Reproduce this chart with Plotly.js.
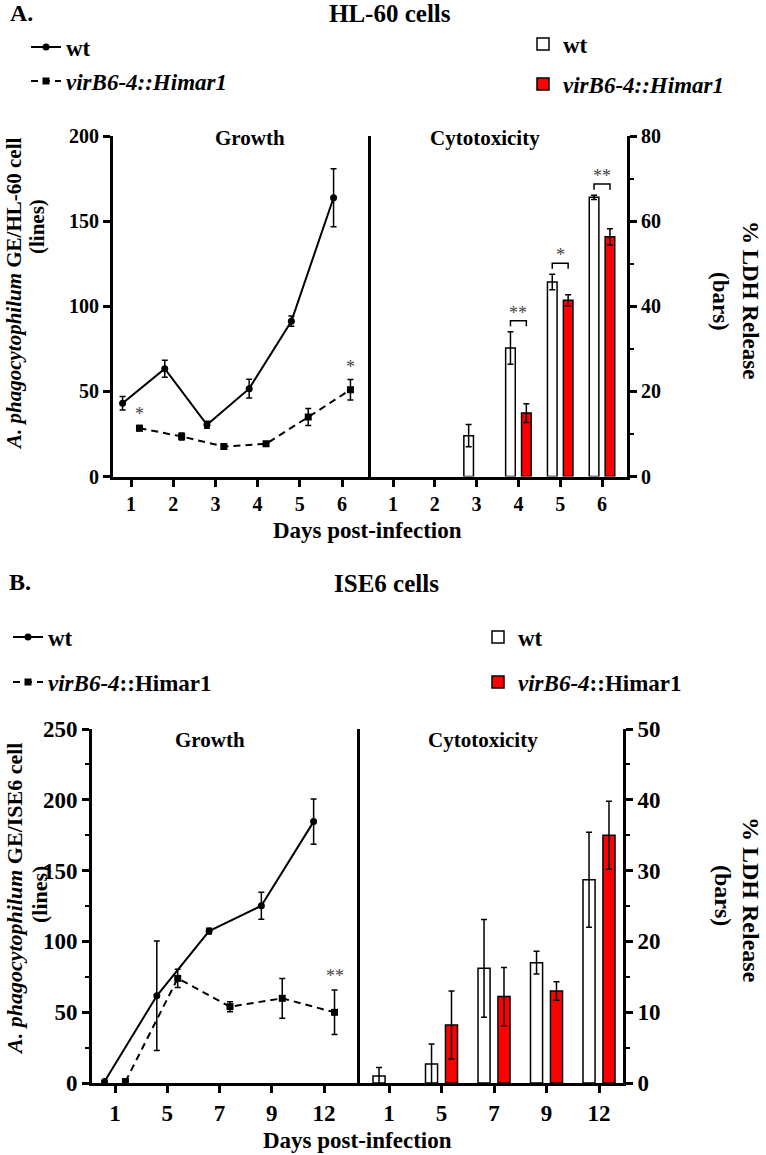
<!DOCTYPE html>
<html>
<head>
<meta charset="utf-8">
<script src="https://cdn.plot.ly/plotly-3.0.1.min.js"></script>
<style>
  body { margin: 0; background: #fff; }
  #plotArea { width: 766px; height: 1155px; }
</style>
</head>
<body>
<div id="plotArea"></div>
<script>
// HL-60 cells (panel A)
var topDays = [1, 2, 3, 4, 5, 6];
var topWtGE = [43, 63.3, 30.4, 51.6, 91.2, 163.7];
var topWtGEErr = [4, 5, 2, 5.5, 3, 17];
var topMutGE = [28.4, 23.5, 17.6, 19.2, 34.9, 51];
var topMutGEErr = [1.5, 2, 1, 1, 5, 6];
var topMutGESig = ["*", "", "", "", "", "*"];
var topWtLDH = [0, 0, 9.6, 30.2, 45.7, 65.6];
var topWtLDHErr = [0, 0, 2.6, 3.8, 1.8, 0.5];
var topMutLDH = [0, 0, 0, 14.9, 41.4, 56.3];
var topMutLDHErr = [0, 0, 0, 2.2, 1.3, 1.9];
var topLDHSig = ["", "", "", "**", "*", "**"];

// ISE6 cells (panel B)
var botDays = ["1", "5", "7", "9", "12"];
var botWtGE = [1, 61.6, 107.3, 125.2, 184.6];
var botWtGEErr = [0, 38.6, 2, 9.5, 16];
var botMutGE = [1, 73.9, 53.9, 59.8, 49.9];
var botMutGEErr = [0, 6.5, 3.5, 14, 15.7];
var botMutGESig = ["", "", "", "", "**"];
var botWtLDH = [1.0, 2.7, 16.2, 17.0, 28.7];
var botWtLDHErr = [1.2, 2.8, 6.9, 1.6, 6.7];
var botMutLDH = [0, 8.2, 12.2, 13.0, 35.0];
var botMutLDHErr = [0, 4.8, 4.1, 1.3, 4.8];

var W = 766, H = 1155;
function px(x) { return x / W; }
function py(y) { return 1 - y / H; }

var serif = "Liberation Serif, Times New Roman, serif";
var botIdx = botDays.map(function(d, i) { return i; });

// no error bar where the error is zero
function errs(arr) {
    return {
        type: "data", visible: true, color: "#000", thickness: 1.5, width: 3,
        array: arr.map(function(e) { return e > 0 ? e : NaN; })
    };
}

function lineTrace(x, y, err, name, dashed, xa, ya, leg) {
    return {
        x: x, y: y, name: name, type: "scatter", mode: "lines+markers",
        xaxis: xa, yaxis: ya, legend: leg,
        line: {color: "#000", width: 2, dash: dashed ? "7px,5px" : "solid"},
        marker: {color: "#000", size: 7, symbol: dashed ? "square" : "circle"},
        error_y: errs(err)
    };
}

// empty (zero) bars are left out
function barTrace(x, y, err, name, red, xa, ya, leg) {
    var keep = y.map(function(v) { return v > 0; });
    function pick(a) { return a.filter(function(v, i) { return keep[i]; }); }
    return {
        x: pick(x), y: pick(y), name: name, type: "bar", xaxis: xa, yaxis: ya, legend: leg,
        width: 0.23, offset: red ? 0.075 : -0.305,
        marker: {color: red ? "#ff0000" : "#ffffff", line: {color: "#000", width: 1.5}},
        error_y: errs(pick(err))
    };
}

var data = [
    lineTrace(topDays.map(function(d) { return d - 0.2; }), topWtGE, topWtGEErr, "wt", false, "x", "y", "legend"),
    lineTrace(topDays.map(function(d) { return d + 0.2; }), topMutGE, topMutGEErr, "<i>virB6-4::Himar1</i>", true, "x", "y", "legend2"),
    barTrace(topDays, topWtLDH, topWtLDHErr, "wt", false, "x2", "y2", "legend3"),
    barTrace(topDays, topMutLDH, topMutLDHErr, "<i>virB6-4::Himar1</i>", true, "x2", "y2", "legend4"),
    lineTrace(botIdx.map(function(d) { return d - 0.2; }), botWtGE, botWtGEErr, "wt", false, "x3", "y3", "legend5"),
    lineTrace(botIdx.map(function(d) { return d + 0.2; }), botMutGE, botMutGEErr, "<i>virB6-4</i>::Himar1", true, "x3", "y3", "legend6"),
    barTrace(botIdx, botWtLDH, botWtLDHErr, "wt", false, "x4", "y4", "legend7"),
    barTrace(botIdx, botMutLDH, botMutLDHErr, "<i>virB6-4</i>::Himar1", true, "x4", "y4", "legend8")
];

function xAxis(dom, anchor, range, vals, text, size) {
    var a = {
        domain: dom, anchor: anchor, range: range, tickvals: vals,
        showline: true, linewidth: 3, linecolor: "#000",
        ticks: "outside", ticklen: 7, tickwidth: 3, tickcolor: "#000",
        showgrid: false, zeroline: false, fixedrange: true,
        tickfont: {family: serif, size: size, color: "#000", weight: "bold"}
    };
    if (text) a.ticktext = text;
    return a;
}

function yAxis(dom, anchor, range, dtick, minor, side, size) {
    var a = {
        domain: dom, anchor: anchor, range: range, dtick: dtick, side: side,
        showline: true, linewidth: 3, linecolor: "#000", mirror: side === "left",
        ticks: "outside", ticklen: 7, tickwidth: 3, tickcolor: "#000",
        showgrid: false, zeroline: false, fixedrange: true,
        tickfont: {family: serif, size: size, color: "#000", weight: "bold"}
    };
    if (minor) a.minor = {dtick: minor, ticks: "outside", ticklen: 4, tickwidth: 2, tickcolor: "#000", showgrid: false};
    return a;
}

function legendAt(textX, yc) {
    return {
        x: px(textX - 42), y: py(yc), xanchor: "left", yanchor: "middle",
        bgcolor: "rgba(0,0,0,0)", itemwidth: 30, itemclick: false,
        font: {family: serif, size: 23, color: "#000", weight: "bold"}
    };
}

function note(text, x, y, size, extra) {
    var a = {
        text: text, x: x, y: y, xref: "paper", yref: "paper",
        xanchor: "center", yanchor: "middle", showarrow: false,
        font: {family: serif, size: size, color: "#000", weight: "bold"}
    };
    for (var k in extra) a[k] = extra[k];
    return a;
}

var annotations = [
    note("A.", px(8), py(13), 24, {xanchor: "left"}),
    note("HL-60 cells", px(390), py(13), 25),
    note("B.", px(7), py(582), 24, {xanchor: "left"}),
    note("ISE6 cells", px(386), py(583), 25),
    note("Growth", px(250), py(138), 21),
    note("Cytotoxicity", px(485), py(138), 21),
    note("Growth", px(210), py(740), 21),
    note("Cytotoxicity", px(483), py(740), 21),
    note("Days post-infection", px(367), py(530), 23),
    note("Days post-infection", px(357), py(1140), 23),
    note("<i>A. phagocytophilum</i> GE/HL-60 cell", px(14), py(294), 21, {textangle: -90}),
    note("(lines)", px(37), py(227), 21, {textangle: -90}),
    note("<i>A. phagocytophilum</i> GE/ISE6 cell", px(14), py(899), 22, {textangle: -90}),
    note("(lines)", px(39), py(895), 22, {textangle: -90}),
    note("% LDH Release", px(751), py(300), 23, {textangle: 90}),
    note("(bars)", px(721), py(301), 23, {textangle: 90}),
    note("% LDH Release", px(751), py(900), 24, {textangle: 90}),
    note("(bars)", px(723), py(895), 24, {textangle: 90})
];

function star(text, x, y, xr, yr, shift) {
    return {
        text: text, x: x, y: y, xref: xr, yref: yr, showarrow: false,
        xanchor: "center", yanchor: "middle", yshift: shift,
        font: {family: serif, size: 18, color: "#444", weight: "normal"}
    };
}

var shapes = [];
topDays.forEach(function(d, i) {
    if (topMutGESig[i]) annotations.push(star(topMutGESig[i], d + 0.2, topMutGE[i] + topMutGEErr[i], "x", "y", 12));
    if (topLDHSig[i]) {
        var yb = topWtLDH[i] + topWtLDHErr[i] + 2.6;
        shapes.push({
            type: "path", xref: "x2", yref: "y2",
            path: "M" + (d - 0.19) + "," + (yb - 1.3) + " L" + (d - 0.19) + "," + yb +
                  " L" + (d + 0.19) + "," + yb + " L" + (d + 0.19) + "," + (yb - 1.3),
            line: {color: "#000", width: 1.5}
        });
        annotations.push(star(topLDHSig[i], d, yb, "x2", "y2", 8));
    }
});
botIdx.forEach(function(d, i) {
    if (botMutGESig[i]) annotations.push(star(botMutGESig[i], d + 0.2, botMutGE[i] + botMutGEErr[i], "x3", "y3", 14));
});

var layout = {
    width: W, height: H,
    margin: {l: 0, r: 0, t: 0, b: 0},
    paper_bgcolor: "#fff", plot_bgcolor: "rgba(0,0,0,0)",
    font: {family: serif, size: 20, color: "#000", weight: "bold"},
    barmode: "overlay",
    showlegend: true,
    xaxis: xAxis([px(113), px(368)], "y", [0.573, 6.616], topDays, null, 20),
    yaxis: yAxis([py(476.5), py(136)], "x", [0, 200], 50, null, "left", 20),
    xaxis2: xAxis([px(368), px(627)], "y2", [0.402, 6.598], topDays, null, 20),
    yaxis2: yAxis([py(476.5), py(136)], "x2", [0, 80], 20, 10, "right", 20),
    xaxis3: xAxis([px(92), px(357)], "y3", [-0.44, 4.63], botIdx, botDays, 23),
    yaxis3: yAxis([py(1083), py(729)], "x3", [0, 250], 50, 25, "left", 23),
    xaxis4: xAxis([px(357), px(623)], "y4", [-0.61, 4.457], botIdx, botDays, 23),
    yaxis4: yAxis([py(1083), py(729)], "x4", [0, 50], 10, 5, "right", 23),
    legend: legendAt(68, 47),
    legend2: legendAt(68, 81),
    legend3: legendAt(565, 44),
    legend4: legendAt(565, 84),
    legend5: legendAt(50, 637),
    legend6: legendAt(50, 682),
    legend7: legendAt(520, 637),
    legend8: legendAt(520, 682),
    annotations: annotations,
    shapes: shapes
};

Plotly.newPlot("plotArea", data, layout, {displayModeBar: false, staticPlot: true});
</script>
</body>
</html>
